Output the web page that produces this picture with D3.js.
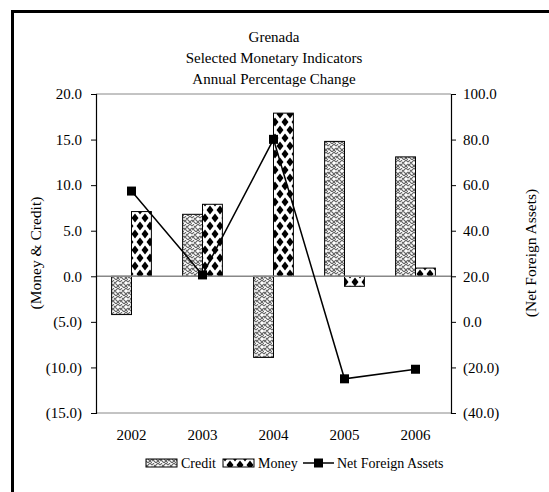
<!DOCTYPE html>
<html>
<head>
<meta charset="utf-8">
<script src="https://cdn.jsdelivr.net/npm/d3@7"></script>
<style>
  body { margin: 0; background: #fff; }
  text { font-family: "Liberation Serif", "DejaVu Serif", serif; fill: #000; }
</style>
</head>
<body>
<script>
var years = ["2002", "2003", "2004", "2005", "2006"];
var credit = [-4.2, 6.8, -8.9, 14.8, 13.1];
var money = [7.1, 7.9, 17.9, -1.1, 0.9];
var nfa = [57.4, 20.6, 80.1, -25.0, -20.8];
var leftTicks = [20, 15, 10, 5, 0, -5, -10, -15];
var rightTicks = [100, 80, 60, 40, 20, 0, -20, -40];
var titleLines = ["Grenada", "Selected Monetary Indicators", "Annual Percentage Change"];

function fmt(v) {
    var s = Math.abs(v).toFixed(1);
    return v < 0 ? "(" + s + ")" : s;
}

var W = 549, H = 492;
var pLeft = 96, pRight = 451, pTop = 94, pBottom = 413;

var svg = d3.select("body").append("svg")
    .attr("width", W)
    .attr("height", H);

// patterns
var defs = svg.append("defs");
var pc = defs.append("pattern")
    .attr("id", "pcredit")
    .attr("patternUnits", "userSpaceOnUse")
    .attr("width", 8).attr("height", 8);
pc.append("rect").attr("width", 8).attr("height", 8).attr("fill", "#fff");
pc.append("path")
    .attr("d", "M0,2 L2,0 M0,6 L6,0 M4,8 L8,4 M2,2 L8,8 M0,4 L4,8 M6,0 L8,2")
    .attr("stroke", "#666").attr("stroke-width", 1.1).attr("fill", "none");

var pm = defs.append("pattern")
    .attr("id", "pmoney")
    .attr("patternUnits", "userSpaceOnUse")
    .attr("x", 0).attr("y", 2)
    .attr("width", 10).attr("height", 16);
pm.append("rect").attr("width", 10).attr("height", 16).attr("fill", "#fff");
pm.append("path")
    .attr("d", "M5,3.5 L8.5,8 L5,12.5 L1.5,8 Z M0,-4.5 L3.5,0 L0,4.5 L-3.5,0 Z M10,-4.5 L13.5,0 L10,4.5 L6.5,0 Z M0,11.5 L3.5,16 L0,20.5 L-3.5,16 Z M10,11.5 L13.5,16 L10,20.5 L6.5,16 Z")
    .attr("fill", "#000");

// frame
svg.append("rect")
    .attr("x", 12.5).attr("y", 11.5)
    .attr("width", W).attr("height", H)
    .attr("fill", "none")
    .attr("stroke", "#000")
    .attr("stroke-width", 3);

// title
svg.append("g").selectAll("text")
    .data(titleLines)
    .enter()
    .append("text")
    .attr("x", 274)
    .attr("y", function (d, i) { return 42 + i * 21; })
    .attr("text-anchor", "middle")
    .attr("font-size", 15)
    .text(function (d) { return d; });

var x = d3.scaleBand().domain(years).range([pLeft, pRight]).paddingInner(0.44).paddingOuter(0.22);
var yL = d3.scaleLinear().domain([-15, 20]).range([pBottom, pTop]);
var yR = d3.scaleLinear().domain([-40, 100]).range([pBottom, pTop]);
var bw = x.bandwidth() / 2;

// plot border lines (gray)
svg.append("line").attr("x1", pLeft).attr("x2", pRight).attr("y1", pTop).attr("y2", pTop)
    .attr("stroke", "#888").attr("stroke-width", 1);
svg.append("line").attr("x1", pLeft).attr("x2", pRight).attr("y1", pBottom).attr("y2", pBottom)
    .attr("stroke", "#888").attr("stroke-width", 1);

// bars
svg.append("g").selectAll("rect")
    .data(credit)
    .enter()
    .append("rect")
    .attr("x", function (d, i) { return x(years[i]); })
    .attr("y", function (d) { return yL(Math.max(0, d)); })
    .attr("width", bw)
    .attr("height", function (d) { return Math.abs(yL(d) - yL(0)); })
    .attr("fill", "url(#pcredit)")
    .attr("stroke", "#000")
    .attr("stroke-width", 1);

svg.append("g").selectAll("rect")
    .data(money)
    .enter()
    .append("rect")
    .attr("x", function (d, i) { return x(years[i]) + bw; })
    .attr("y", function (d) { return yL(Math.max(0, d)); })
    .attr("width", bw)
    .attr("height", function (d) { return Math.abs(yL(d) - yL(0)); })
    .attr("fill", "url(#pmoney)")
    .attr("stroke", "#000")
    .attr("stroke-width", 1);

// zero line
svg.append("line").attr("x1", pLeft).attr("x2", pRight).attr("y1", yL(0)).attr("y2", yL(0))
    .attr("stroke", "#888").attr("stroke-width", 1.5);

// axes
var axL = svg.append("g")
    .attr("transform", "translate(" + pLeft + ",0)")
    .call(d3.axisLeft(yL).tickValues(leftTicks).tickFormat(fmt).tickSize(5).tickPadding(9));
var axR = svg.append("g")
    .attr("transform", "translate(" + pRight + ",0)")
    .call(d3.axisRight(yR).tickValues(rightTicks).tickFormat(fmt).tickSize(5).tickPadding(7));
[axL, axR].forEach(function (a) {
    a.selectAll("path").attr("stroke", "#000").attr("stroke-width", 1.2);
    a.selectAll("line").attr("stroke", "#000");
    a.selectAll("text").attr("font-size", 15)
        .attr("font-family", "Liberation Serif, serif").attr("fill", "#000");
});

var axB = svg.append("g")
    .attr("transform", "translate(0," + pBottom + ")")
    .call(d3.axisBottom(x).tickSize(0).tickPadding(16));
axB.select("path").remove();
axB.selectAll("text").attr("font-size", 15)
    .attr("font-family", "Liberation Serif, serif").attr("fill", "#000");

// NFA line
var line = d3.line()
    .x(function (d, i) { return x(years[i]) + x.bandwidth() / 2; })
    .y(function (d) { return yR(d); });
svg.append("path")
    .datum(nfa)
    .attr("d", line)
    .attr("fill", "none")
    .attr("stroke", "#000")
    .attr("stroke-width", 1.5);
svg.append("g").selectAll("rect")
    .data(nfa)
    .enter()
    .append("rect")
    .attr("x", function (d, i) { return x(years[i]) + x.bandwidth() / 2 - 4.5; })
    .attr("y", function (d) { return yR(d) - 4.5; })
    .attr("width", 9)
    .attr("height", 9)
    .attr("fill", "#000");

// axis titles
svg.append("text")
    .attr("transform", "translate(41,253) rotate(-90)")
    .attr("text-anchor", "middle")
    .attr("font-size", 15.5)
    .text("(Money & Credit)");
svg.append("text")
    .attr("transform", "translate(536,253) rotate(-90)")
    .attr("text-anchor", "middle")
    .attr("font-size", 15.5)
    .text("(Net Foreign Assets)");

// legend
var lg = svg.append("g").attr("transform", "translate(0,463)");
lg.append("rect").attr("x", 146).attr("y", -4).attr("width", 31).attr("height", 8)
    .attr("fill", "url(#pcredit)").attr("stroke", "#000");
lg.append("text").attr("x", 181).attr("y", 5).attr("font-size", 14).text("Credit");
lg.append("rect").attr("x", 223).attr("y", -4).attr("width", 31).attr("height", 8)
    .attr("fill", "url(#pmoney)").attr("stroke", "#000");
lg.append("text").attr("x", 258).attr("y", 5).attr("font-size", 14).text("Money");
lg.append("line").attr("x1", 303).attr("x2", 334).attr("y1", 0).attr("y2", 0)
    .attr("stroke", "#000").attr("stroke-width", 1.5);
lg.append("rect").attr("x", 314).attr("y", -4.5).attr("width", 9).attr("height", 9).attr("fill", "#000");
lg.append("text").attr("x", 337).attr("y", 5).attr("font-size", 14).text("Net Foreign Assets");
</script>
</body>
</html>
